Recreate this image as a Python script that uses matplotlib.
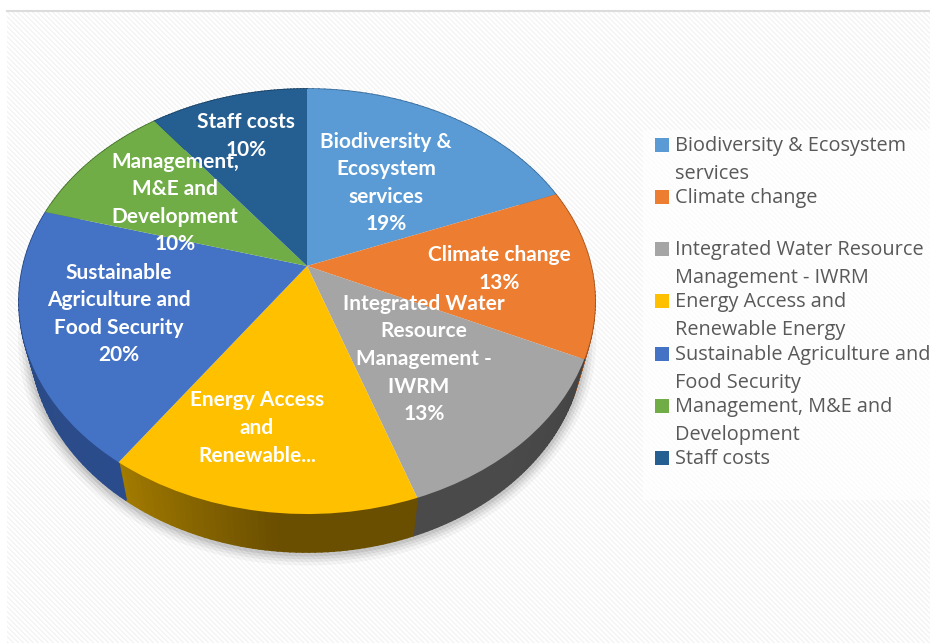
import numpy as np
import matplotlib
matplotlib.use("Agg")
import matplotlib.pyplot as plt
from matplotlib.patches import Rectangle
from matplotlib.transforms import Transform
from matplotlib.colors import to_rgb

# data
categories = ['Biodiversity & Ecosystem services', 'Climate change',
              'Integrated Water Resource Management - IWRM',
              'Energy Access and Renewable Energy',
              'Sustainable Agriculture and Food Security',
              'Management, M&E and Development', 'Staff costs']
values = [19.0, 12.9, 12.8, 15.0, 19.7, 10.2, 10.4]
colors = ['#5b9bd5', '#ed7d31', '#a5a5a5', '#ffc000', '#4472c4', '#70ad47', '#255e91']
side_start = ['#3a6f9e', '#a8561f', '#444444', '#6b4f00', '#2b4c8c', '#4a7530', '#1a4468']
side_end = ['#3a6f9e', '#a8561f', '#4a4a4a', '#a17a00', '#2a4a85', '#4a7530', '#1a4468']

# wrapped text as it shows in the picture
slice_labels = ['Biodiversity &\nEcosystem\nservices\n19%', 'Climate change\n13%',
                'Integrated Water\nResource\nManagement -\nIWRM  \n13%',
                'Energy Access\nand\nRenewable...',
                'Sustainable\nAgriculture and\nFood Security\n20%',
                'Management,\nM&E and\nDevelopment\n10%', 'Staff costs\n10%']
slice_label_xy = [(386, 183), (499, 269), (424, 359), (257, 428), (119, 314), (175, 203), (246, 136)]
legend_labels = ['Biodiversity & Ecosystem\nservices', 'Climate change',
                 'Integrated Water Resource\nManagement - IWRM', 'Energy Access and\nRenewable Energy',
                 'Sustainable Agriculture and\nFood Security', 'Management, M&E and\nDevelopment', 'Staff costs']
legend_y = [145, 197, 249, 301, 354, 406, 458]

# perspective of the tilted pie, in picture pixels
CX, CY = 307.0, 266.0
BX, AY, K = 284.0, 206.6, 0.167
DEPTH, SHRINK = 38.0, 0.96


def project(pts):
    pts = np.asarray(pts, dtype=float)
    d = 1 + K * pts[:, 1]
    return np.column_stack([CX + BX * pts[:, 0] / d, CY - AY * pts[:, 1] / d])


class Tilt(Transform):
    input_dims = 2
    output_dims = 2

    def transform_non_affine(self, values):
        return project(values)


fig = plt.figure(figsize=(9.3, 6.43), dpi=100)
ax = fig.add_axes([0, 0, 1, 1])

# hatched background
yy, xx = np.mgrid[0:643, 0:930]
stripes = np.where((xx - yy) % 5 < 2, 0.955, 1.0)
stripes[:11, :] = 1.0
stripes[:, :7] = 1.0
ax.imshow(stripes, cmap='gray', vmin=0, vmax=1, extent=(0, 930, 643, 0), aspect='auto', zorder=0,
          interpolation='bilinear')
ax.plot([7, 930], [11, 11], color='#dcdcdc', lw=1.5, zorder=1)

wedges, _ = ax.pie(values, colors=colors, startangle=90, counterclock=False, frame=True,
                   wedgeprops={'linewidth': 0})
ax.set_aspect('auto')
tilt = Tilt()
for w in wedges:
    w.set_transform(tilt + ax.transData)
    w.set_zorder(5)

# side wall and shadow
edges = np.cumsum([0] + values) / sum(values) * 2 * np.pi
full = np.linspace(np.pi * 0.45, np.pi * 1.65, 200)
rim = project(np.column_stack([np.sin(full), np.cos(full)]))
low = np.column_stack([CX + (rim[:, 0] - CX) * SHRINK, rim[:, 1] + DEPTH])
for lw, a in zip([18, 13, 9, 5], [0.035, 0.05, 0.06, 0.08]):
    ax.plot(low[:, 0], low[:, 1] + 1, color='black', alpha=a, lw=lw, zorder=2, solid_capstyle='round')

for i in range(len(values)):
    ts = np.linspace(edges[i], edges[i + 1], 50)
    top = project(np.column_stack([np.sin(ts), np.cos(ts)]))
    bot = np.column_stack([CX + (top[:, 0] - CX) * SHRINK, top[:, 1] + DEPTH])
    c0, c1 = np.array(to_rgb(side_start[i])), np.array(to_rgb(side_end[i]))
    for j in range(len(ts) - 1):
        # colour only moves over the first 60% of the wall
        f = min(j / (len(ts) - 2) / 0.6, 1.0) if i != 3 else max((j / (len(ts) - 2) - 0.45) / 0.55, 0.0)
        col = c0 + (c1 - c0) * f
        ax.fill([top[j, 0], top[j + 1, 0], bot[j + 1, 0], bot[j, 0]],
                [top[j, 1], top[j + 1, 1], bot[j + 1, 1], bot[j, 1]],
                facecolor=col, edgecolor=col, lw=1.2, zorder=3)

# slice labels
for lab, (x, y) in zip(slice_labels, slice_label_xy):
    ax.text(x, y, lab, color='white', fontsize=15, family='Lato', fontweight='bold', ha='center',
            va='center', linespacing=1.47, zorder=6)

# legend
ax.add_patch(Rectangle((643, 130), 287, 370, facecolor='white', alpha=0.65, lw=0, zorder=1))
for lab, col, y in zip(legend_labels, colors, legend_y):
    ax.add_patch(Rectangle((655, y - 7), 14, 14, facecolor=col, lw=0, zorder=6))
    ax.text(675, y - 9, lab, color='#595959', fontsize=14.3, family='Open Sans', ha='left', va='top',
            linespacing=1.52, zorder=6, clip_on=True)

ax.set_xlim(0, 930)
ax.set_ylim(643, 0)
ax.axis('off')
fig.savefig('out.png', dpi=100)
